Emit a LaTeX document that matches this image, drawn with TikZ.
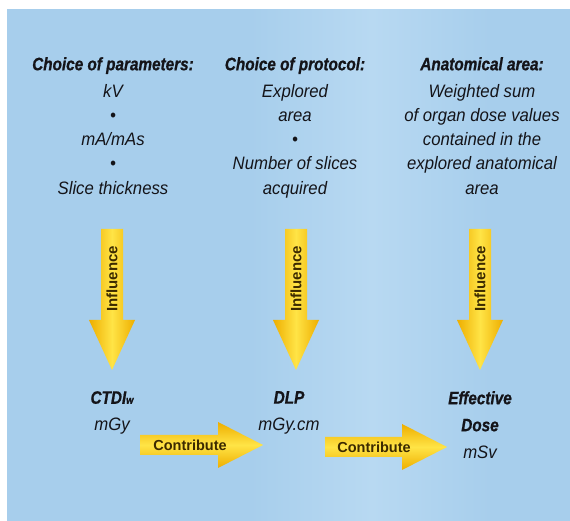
\documentclass[tikz,border=0pt]{standalone}
\usepackage{fontspec}
\setmainfont{Liberation Sans}[ItalicFeatures={FakeStretch=0.93}, BoldItalicFeatures={FakeStretch=0.85, FakeBold=0.8}]
\definecolor{bgblue}{RGB}{167,206,236}
\definecolor{bglight}{RGB}{184,217,242}
\definecolor{arrowdark}{RGB}{238,174,0}
\definecolor{arrowlight}{RGB}{255,228,70}
\definecolor{arrowtxt}{RGB}{60,42,0}
\definecolor{txtblack}{RGB}{20,20,25}

\tikzset{
  coltext/.style={align=center, anchor=north, inner sep=0pt, text=txtblack,
    font=\itshape\fontsize{18}{24.3}\selectfont},
  dosetext/.style={coltext, font=\itshape\fontsize{18}{27}\selectfont},
  arrowtext/.style={inner sep=0pt, text=arrowtxt, font=\bfseries\fontsize{15}{15}\selectfont},
  vshade/.style={left color=arrowdark, right color=arrowdark, middle color=arrowlight},
  hshade/.style={top color=arrowdark, bottom color=arrowdark, middle color=arrowlight},
}

\begin{document}
\begin{tikzpicture}[x=1pt, y=1pt]
        \useasboundingbox (0,0) rectangle (570,521);
        \fill [white] (0,0) rectangle (570,521);
        %
        \fill [bgblue] (7,0) rectangle (570,512);
        \shade [left color=bgblue, right color=bglight] (250,0) rectangle (372,511.5);
        \shade [left color=bglight, right color=bgblue] (372,0) rectangle (490,511.5);
        %
        \node [coltext] (params) at (113,464) {\textbf{Choice of parameters:}\\[2.5pt] kV\\ \textbullet\\ mA/mAs\\ \textbullet\\ Slice thickness};
        \node [coltext] (protocol) at (295,464) {\textbf{Choice of protocol:}\\[2.5pt] Explored\\ area\\ \textbullet\\ Number of slices\\ acquired};
        \node [coltext] (anatomy) at (482,464) {\textbf{Anatomical area:}\\[2.5pt] Weighted sum\\ of organ dose values\\ contained in the\\ explored anatomical\\ area};
        %
        \foreach \xc in {112,296,480}{
          \shade [vshade] (\xc-11,292) -- (\xc-11,201) -- (\xc-23,201) -- (\xc,151)
                -- (\xc+23,201) -- (\xc+11,201) -- (\xc+11,292) -- cycle;
          \node [arrowtext, rotate=90] (infl\xc) at (\xc,242) {Influence};
        }
        %
        \node [dosetext] (ctdi) at (112,130) {\textbf{CTDI{\fontsize{11}{11}\selectfont w}}\\ mGy};
        \node [dosetext] (dlp) at (289,130) {\textbf{DLP}\\ mGy.cm};
        \node [dosetext] (edose) at (480,130) {\textbf{Effective}\\ \textbf{Dose}\\ mSv};
        %
        \shade [hshade] (140,86) -- (218,86) -- (218,99) -- (263,76) -- (218,53) -- (218,66) -- (140,66) -- cycle;
        \node [arrowtext, font=\bfseries\fontsize{14.5}{14.5}\selectfont] (contr1) at (190,76) {Contribute};
        \shade [hshade] (325,84) -- (402,84) -- (402,97) -- (447,74) -- (402,51) -- (402,64) -- (325,64) -- cycle;
        \node [arrowtext, font=\bfseries\fontsize{14.5}{14.5}\selectfont] (contr2) at (374,74) {Contribute};
      \end{tikzpicture}
\end{document}
